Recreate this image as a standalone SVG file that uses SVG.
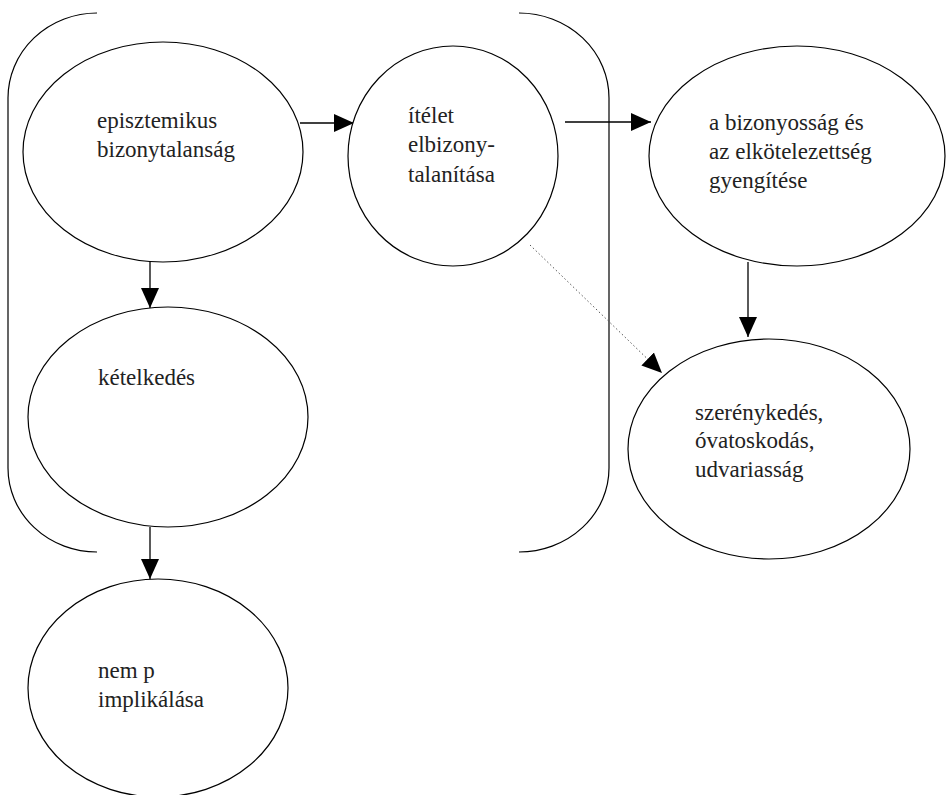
<svg xmlns="http://www.w3.org/2000/svg" width="947" height="795" viewBox="0 0 947 795">
<style>
.n{fill:#fff;stroke:#000;stroke-width:1.2}
.t{font-family:"Times New Roman","Liberation Serif","DejaVu Serif",serif;font-size:23px;fill:#222}
.c{fill:none;stroke:#000;stroke-width:1.3}
.d{fill:none;stroke:#555;stroke-width:1;stroke-dasharray:1.5 2.5}
.b{fill:none;stroke:#000;stroke-width:1.2}
</style>
<defs>
<marker id="ah" markerWidth="20" markerHeight="20" viewBox="0 0 20 20" refX="20" refY="10" orient="auto" markerUnits="userSpaceOnUse">
<path d="M0,1 L20,10 L0,19 Z" fill="#000"/>
</marker>
</defs>
<rect width="947" height="795" fill="#fff"/>
<g id="brackets">
<path class="b" d="M97,13 A89 85 0 0 0 8 98 L8 468 A89 84 0 0 0 97 552"/>
<path class="b" d="M519,13 A90 85 0 0 1 609 98 L609 468 A90 84 0 0 1 519 552"/>
</g>
<g id="connectors">
<line class="c" x1="300" y1="123" x2="354" y2="123" marker-end="url(#ah)"/>
<line class="c" x1="565" y1="122" x2="651" y2="122" marker-end="url(#ah)"/>
<line class="c" x1="150" y1="262" x2="150" y2="308" marker-end="url(#ah)"/>
<line class="c" x1="150" y1="527" x2="150" y2="579" marker-end="url(#ah)"/>
<line class="c" x1="748" y1="262" x2="748" y2="337" marker-end="url(#ah)"/>
<line class="d" x1="530" y1="245" x2="662" y2="373" marker-end="url(#ah)"/>
</g>
<g id="n1">
<ellipse class="n" cx="163" cy="152" rx="140" ry="110"/>
<text class="t" x="97" y="128">episztemikus</text>
<text class="t" x="97" y="157">bizonytalanság</text>
</g>
<g id="n2">
<ellipse class="n" cx="453" cy="156" rx="105" ry="110"/>
<text class="t" x="408" y="123">ítélet</text>
<text class="t" x="408" y="152">elbizony-</text>
<text class="t" x="408" y="182">talanítása</text>
</g>
<g id="n3">
<ellipse class="n" cx="168" cy="417" rx="140" ry="110"/>
<text class="t" x="98" y="385">kételkedés</text>
</g>
<g id="n4">
<ellipse class="n" cx="797" cy="156" rx="148" ry="110"/>
<text class="t" x="709" y="130">a bizonyosság és</text>
<text class="t" x="709" y="159">az elkötelezettség</text>
<text class="t" x="709" y="188">gyengítése</text>
</g>
<g id="n5">
<ellipse class="n" cx="769" cy="449" rx="141" ry="110"/>
<text class="t" x="695" y="420">szerénykedés,</text>
<text class="t" x="695" y="448">óvatoskodás,</text>
<text class="t" x="695" y="477">udvariasság</text>
</g>
<g id="n6">
<ellipse class="n" cx="158" cy="688" rx="130" ry="109"/>
<text class="t" x="98" y="678">nem p</text>
<text class="t" x="98" y="707">implikálása</text>
</g>
</svg>
